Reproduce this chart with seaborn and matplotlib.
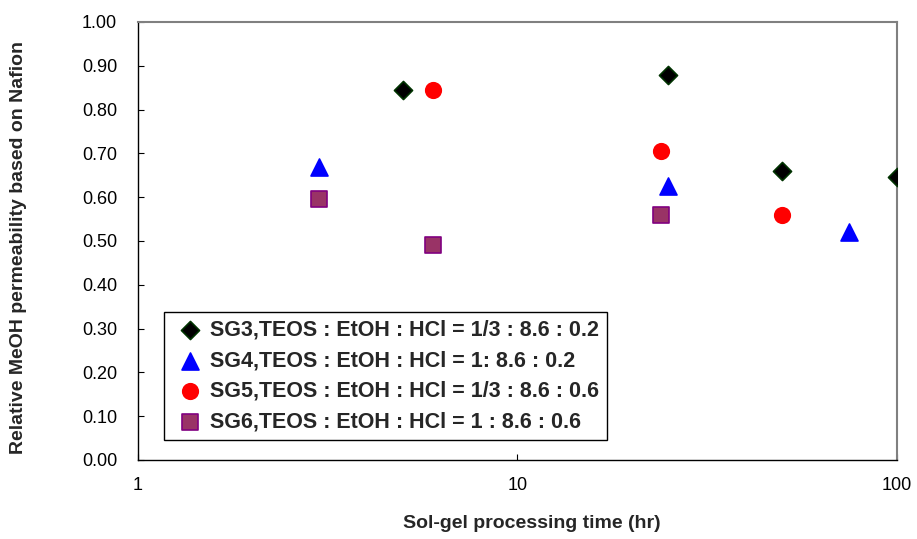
import matplotlib.pyplot as plt
import seaborn as sns
import pandas as pd
from matplotlib.ticker import FixedLocator, NullLocator, FormatStrFormatter

# dane
sg3_time = [5, 25, 50, 100]
sg3_perm = [0.845, 0.880, 0.660, 0.645]
sg4_time = [3, 25, 75]
sg4_perm = [0.670, 0.625, 0.520]
sg5_time = [6, 24, 50]
sg5_perm = [0.845, 0.705, 0.560]
sg6_time = [3, 6, 24]
sg6_perm = [0.595, 0.490, 0.560]

labels = [
    "SG3,TEOS : EtOH : HCl = 1/3 : 8.6 : 0.2",
    "SG4,TEOS : EtOH : HCl = 1: 8.6 : 0.2",
    "SG5,TEOS : EtOH : HCl = 1/3 : 8.6 : 0.6",
    "SG6,TEOS : EtOH : HCl = 1 : 8.6 : 0.6",
]

sns.set_style("white")
plt.rcParams['font.family'] = ['Liberation Sans', 'DejaVu Sans']

fig = plt.figure(figsize=(9.17, 5.39), dpi=100)
ax = fig.add_axes([0.1505, 0.1466, 0.8272, 0.8126])

series = [
    (sg3_time, sg3_perm, "D", "black", "#003300", 85),
    (sg4_time, sg4_perm, "^", "#0000FF", "#0000FF", 150),
    (sg5_time, sg5_perm, "o", "#FF0000", "#FF0000", 125),
    (sg6_time, sg6_perm, "s", "#993366", "#800080", 130),
]
for (t, p, m, fc, ec, s), lab in zip(series, labels):
    df = pd.DataFrame({"time": t, "perm": p})
    sns.scatterplot(data=df, x="time", y="perm", marker=m, color=fc,
                    edgecolor=ec, linewidth=1.2, s=s, label=lab, ax=ax, zorder=3)

ax.set_xscale("log")
ax.set_xlim(1, 100)
ax.set_ylim(0, 1.0)
ax.xaxis.set_major_locator(FixedLocator([1, 10, 100]))
ax.xaxis.set_minor_locator(NullLocator())
ax.set_xticklabels(["1", "10", "100"])
ax.set_yticks([i / 10 for i in range(11)])
ax.yaxis.set_major_formatter(FormatStrFormatter("%.2f"))
ax.tick_params(axis="both", direction="in", length=4, width=0.8, colors="black",
               labelsize=13, left=True, bottom=True)
ax.tick_params(axis="x", pad=12)
ax.tick_params(axis="y", pad=15)

for side in ["left", "bottom"]:
    ax.spines[side].set_color("black")
    ax.spines[side].set_linewidth(1.0)
for side in ["top", "right"]:
    ax.spines[side].set_color("#808080")
    ax.spines[side].set_linewidth(1.5)

ax.set_xlabel("Sol-gel processing time (hr)", fontsize=14, fontweight="bold")
ax.set_ylabel("Relative MeOH permeability based on Nafion", fontsize=14,
              fontweight="bold")
ax.xaxis.set_label_coords(0.519, -0.126)
ax.yaxis.set_label_coords(-0.147, 0.486)

leg = ax.legend(loc="upper left", bbox_to_anchor=(0.034, 0.338), borderaxespad=0,
                frameon=True, fancybox=False, edgecolor="black", framealpha=1,
                prop={"weight": "bold", "size": 15.5}, handletextpad=0.1,
                handlelength=1.7, labelspacing=0.45, borderpad=0.35, markerscale=1.0)
leg.get_frame().set_linewidth(1.0)

fig.savefig("out.png", dpi=100)
